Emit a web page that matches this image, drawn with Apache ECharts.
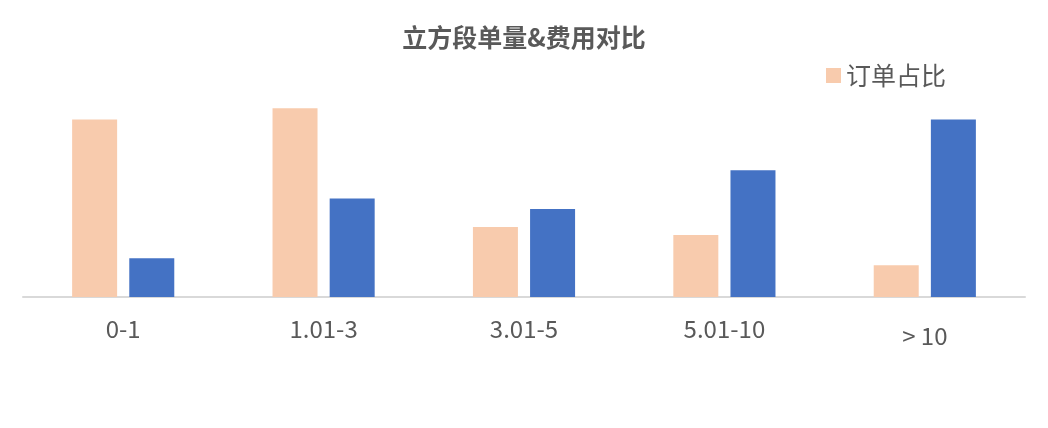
<!DOCTYPE html>
<html>
<head>
<meta charset="utf-8">
<script src="https://cdn.jsdelivr.net/npm/echarts@6/dist/echarts.min.js"></script>
<style>
html,body{margin:0;padding:0;background:#fff;}
#c{width:1048px;height:428px;}
</style>
</head>
<body>
<div id="c"></div>
<script>
var categories = ['0-1', '1.01-3', '3.01-5', '5.01-10', '> 10'];
var orderShare = [33.5, 35.6, 13.2, 11.7, 6.0];
var costShare = [7.3, 18.6, 16.6, 23.9, 33.5];
var titleText = '立方段单量&费用对比';

var chart = echarts.init(document.getElementById('c'), null, {renderer: 'canvas'});
var font = '"Noto Sans CJK SC", "Noto Sans", sans-serif';
chart.setOption({
  animation: false,
  backgroundColor: '#ffffff',
  title: {
    text: titleText,
    left: 'center',
    top: 20,
    textStyle: {fontFamily: font, fontSize: 25, fontWeight: 'bold', color: '#595959'}
  },
  legend: {
    data: ['订单占比'],
    left: 821,
    top: 58,
    itemWidth: 15,
    itemHeight: 15,
    icon: 'rect',
    textStyle: {fontFamily: font, fontSize: 25, color: '#595959'}
  },
  grid: {left: 23, right: 23, top: 85, bottom: 131, containLabel: false},
  xAxis: {
    type: 'category',
    data: categories,
    axisLine: {lineStyle: {color: '#d9d9d9', width: 2}},
    axisTick: {show: false},
    axisLabel: {
      fontFamily: font,
      fontSize: 24,
      color: '#595959',
      margin: 20,
      formatter: function (v) { return v === '> 10' ? '{low|' + v + '}' : v; },
      rich: {low: {fontFamily: font, fontSize: 24, color: '#595959', padding: [7, 0, 0, 0]}}
    }
  },
  yAxis: {
    type: 'value',
    min: 0,
    max: 40,
    show: false,
    splitLine: {show: false}
  },
  series: [
    {name: '订单占比', type: 'bar', data: orderShare, barWidth: 45, barGap: '27%', itemStyle: {color: '#F8CBAD'}},
    {name: '费用占比', type: 'bar', data: costShare, barWidth: 45, barGap: '27%', itemStyle: {color: '#4472C4'}}
  ]
});
</script>
</body>
</html>
